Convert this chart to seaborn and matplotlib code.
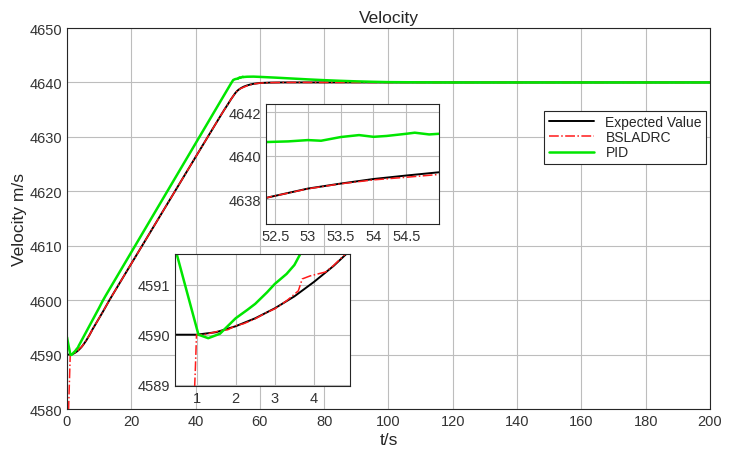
import matplotlib
matplotlib.use("Agg")
import matplotlib.pyplot as plt
import pandas as pd
import seaborn as sns

# Expected value (reference trajectory)
t_expected = [0, 1, 1.5, 2, 2.5, 3, 3.5, 4, 4.5, 5, 6, 7, 8, 9, 10, 11, 12, 13, 14,
              20, 30, 40, 48, 49, 50, 51, 52, 52.4, 53, 53.5, 54, 54.5, 55, 56, 57,
              58, 60, 63, 67, 200]
v_expected = [4590, 4590, 4590.05, 4590.17, 4590.33, 4590.53, 4590.77, 4591.06, 4591.38,
              4591.75, 4592.6, 4593.6, 4594.7, 4595.7, 4596.7, 4597.7, 4598.75, 4599.8,
              4600.8, 4606.7, 4616.5, 4626.3, 4634.1, 4635.05, 4635.95, 4636.9, 4637.75,
              4638.08, 4638.48, 4638.71, 4638.92, 4639.08, 4639.23, 4639.45, 4639.62,
              4639.75, 4639.9, 4639.97, 4640, 4640]

# BSLADRC
t_bsladrc = [0, 0.5, 0.97, 1.0, 1.2, 1.5, 1.8, 2.0, 2.2, 2.5, 2.8, 3.0, 3.3, 3.6, 3.7,
             3.8, 3.9, 4.1, 4.3, 4.5, 5, 6, 7, 8, 9, 10, 11, 12, 13, 14, 20, 30, 40, 48,
             49, 50, 51, 52, 52.4, 53, 53.5, 54, 54.5, 55, 56, 58, 60, 63, 67, 200]
v_bsladrc = [4580, 4580, 4589.3, 4590, 4590.0, 4590.06, 4590.1, 4590.18, 4590.22, 4590.32,
             4590.45, 4590.52, 4590.68, 4590.88, 4591.12, 4591.15, 4591.18, 4591.22,
             4591.26, 4591.39, 4591.77, 4592.62, 4593.58, 4594.72, 4595.68, 4596.72,
             4597.68, 4598.77, 4599.78, 4600.8, 4606.7, 4616.5, 4626.3, 4634.1, 4635.05,
             4635.95, 4636.9, 4637.75, 4638.08, 4638.47, 4638.7, 4638.88, 4639.0,
             4639.13, 4639.38, 4639.72, 4639.88, 4639.96, 4640, 4640]

# PID
t_pid = [0, 0.45, 1.05, 1.3, 1.6, 2.0, 2.3, 2.5, 2.8, 3.0, 3.3, 3.5, 3.65, 4, 5, 6, 7, 8,
         9, 10, 11, 12, 20, 30, 40, 46, 50, 51, 51.7, 52.36, 52.7, 53, 53.2, 53.5, 53.78,
         54, 54.2, 54.5, 54.63, 54.85, 55, 56, 58, 60, 65, 70, 75, 80, 85, 90, 95, 100,
         110, 120, 200]
v_pid = [4593.2, 4591.75, 4590.0, 4589.93, 4590.02, 4590.33, 4590.5, 4590.62, 4590.85,
         4591.02, 4591.22, 4591.4, 4591.62, 4592.0, 4593.1, 4594.2, 4595.3, 4596.4,
         4597.5, 4598.6, 4599.75, 4600.8, 4608.8, 4618.8, 4628.8, 4634.8, 4638.8,
         4639.8, 4640.45, 4640.62, 4640.65, 4640.71, 4640.68, 4640.85, 4640.94, 4640.86,
         4640.9, 4641.0, 4641.05, 4640.97, 4641.0, 4641.05, 4641.07, 4641.02, 4640.88,
         4640.72, 4640.56, 4640.42, 4640.3, 4640.2, 4640.12, 4640.06, 4640.02, 4640.0,
         4640.0]

df_exp = pd.DataFrame({'t': t_expected, 'v': v_expected})
df_bs = pd.DataFrame({'t': t_bsladrc, 'v': v_bsladrc})
df_pid = pd.DataFrame({'t': t_pid, 'v': v_pid})

sns.set_theme(style="white")
plt.rcParams['font.family'] = ['Liberation Sans', 'DejaVu Sans']
plt.rcParams['axes.edgecolor'] = '#262626'
plt.rcParams['axes.linewidth'] = 0.8


def draw_lines(ax, show_label=False):
    sns.lineplot(data=df_exp, x='t', y='v', ax=ax, color='black', linewidth=1.4,
                 estimator=None, sort=False,
                 label='Expected Value' if show_label else None, legend=False)
    sns.lineplot(data=df_bs, x='t', y='v', ax=ax, color='#ff1a1a', linewidth=1.1,
                 linestyle='-.', estimator=None, sort=False,
                 label='BSLADRC' if show_label else None, legend=False)
    sns.lineplot(data=df_pid, x='t', y='v', ax=ax, color='#00e600', linewidth=1.8,
                 estimator=None, sort=False,
                 label='PID' if show_label else None, legend=False)


def style_axes(ax, size=10.5):
    ax.grid(True, color='#bdbdbd', linewidth=0.8)
    ax.tick_params(direction='in', length=3, labelsize=size, colors='#262626',
                   labelcolor='#333333')
    ax.set_facecolor('white')
    ax.set_xlabel('')
    ax.set_ylabel('')


fig = plt.figure(figsize=(7.33, 4.52), dpi=100)

# main axes
ax = fig.add_axes([0.0914, 0.0929, 0.8772, 0.8429])
draw_lines(ax, show_label=True)
style_axes(ax)
ax.set_xlim(0, 200)
ax.set_ylim(4580, 4650)
ax.set_xticks(range(0, 201, 20))
ax.set_yticks(range(4580, 4651, 10))
ax.set_title('Velocity', fontsize=12.5, pad=4)
ax.set_xlabel('t/s', fontsize=12.5, labelpad=3)
ax.set_ylabel('Velocity m/s', fontsize=12.5, labelpad=2)
leg = ax.legend(loc='upper right', bbox_to_anchor=(0.994, 0.782), fontsize=10,
                frameon=True, fancybox=False, edgecolor='#262626', framealpha=1,
                handlelength=3.3, borderpad=0.3, labelspacing=0.08,
                borderaxespad=0)
leg.get_frame().set_linewidth(0.8)

# inset near the start
ax1 = fig.add_axes([0.2387, 0.1438, 0.2388, 0.292])
draw_lines(ax1)
style_axes(ax1)
ax1.set_xlim(0.45, 4.92)
ax1.set_ylim(4588.97, 4591.62)
ax1.set_xticks([1, 2, 3, 4])
ax1.set_yticks([4589, 4590, 4591])

# inset near the top
ax2 = fig.add_axes([0.3629, 0.5022, 0.236, 0.2655])
draw_lines(ax2)
style_axes(ax2)
ax2.set_xlim(52.36, 55.0)
ax2.set_ylim(4636.85, 4642.37)
ax2.set_xticks([52.5, 53, 53.5, 54, 54.5])
ax2.set_xticklabels(['52.5', '53', '53.5', '54', '54.5'])
ax2.set_yticks([4638, 4640, 4642])

fig.savefig('out.png', dpi=100)
